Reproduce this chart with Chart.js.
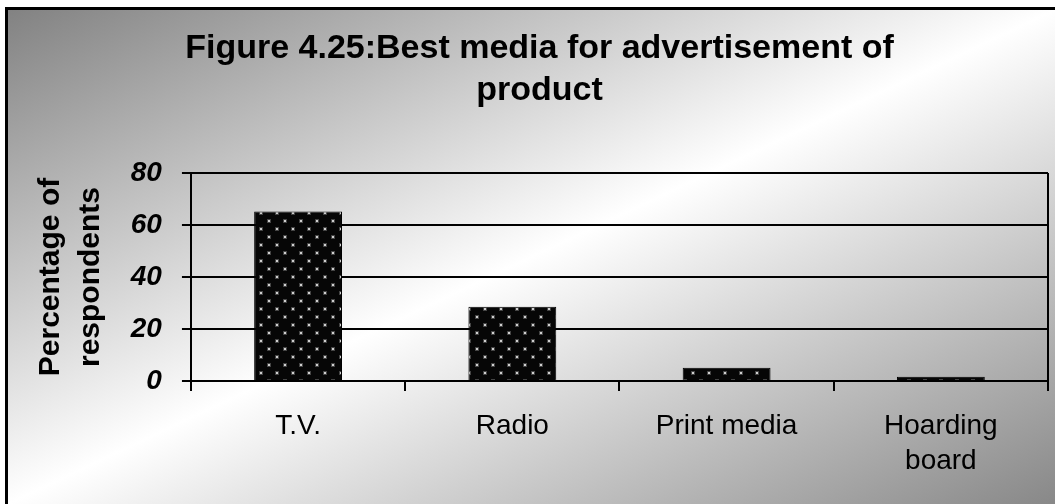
<!DOCTYPE html>
<html>
<head>
<meta charset="utf-8">
<script src="https://cdn.jsdelivr.net/npm/chart.js@4/dist/chart.umd.min.js"></script>
<style>
  html, body { margin: 0; padding: 0; background: #fff; }
  #frame {
    position: absolute; left: 5px; top: 7px; width: 1050px; height: 497px;
    border-left: 3px solid #000; border-top: 3px solid #000; box-sizing: border-box;
    background: linear-gradient(to bottom right, #828282 0%, #ffffff 50%, #888888 100%);
  }
  #wrap { position: absolute; left: 0; top: 0; width: 1055px; height: 504px; }
</style>
</head>
<body>
<div id="frame"></div>
<div id="wrap"><canvas id="best-media"></canvas></div>
<script>
// media categories and share of respondents (%)
var media = ["T.V.", "Radio", "Print media", ["Hoarding", "board"]];
var respondents = [65.2, 28.6, 5.1, 1.6];
var yTicks = [0, 20, 40, 60, 80];

var font = "Arial, 'Liberation Sans', sans-serif";

var ctx = document.getElementById('best-media').getContext('2d');

// black bar fill with small staggered light dots
function dotPattern() {
  var tile = document.createElement('canvas');
  tile.width = 16;
  tile.height = 16;
  var t = tile.getContext('2d');
  t.fillStyle = '#060606';
  t.fillRect(0, 0, 16, 16);
  [[4, 4], [12, 12]].forEach(function (p) {
    t.fillStyle = '#444';
    t.fillRect(p[0] - 1, p[1] - 1, 4, 4);
    t.fillStyle = '#cfcfcf';
    t.fillRect(p[0], p[1], 2, 2);
  });
  return ctx.createPattern(tile, 'repeat');
}

var chart = new Chart(ctx, {
// The type of chart we want to create
type: 'bar',

// The data for our dataset
data: {
  labels: media,
  datasets: [{
    data: respondents,
    backgroundColor: dotPattern(),
    borderColor: '#000',
    borderWidth: 1,
    categoryPercentage: 1,
    barPercentage: 0.41
  }]
},

// Configuration options go here
options: {
  responsive: true,
  maintainAspectRatio: false,
  animation: false,
  layout: { padding: { left: 31, right: 7, top: 0, bottom: 7 } },
  plugins: {
    legend: { display: false },
    tooltip: { enabled: false },
    title: {
      display: true,
      text: ['Figure 4.25:Best media for advertisement of', 'product'],
      color: '#000',
      font: { family: font, size: 34, weight: 'bold', lineHeight: 1.235 },
      padding: { top: 28, bottom: 61 }
    }
  },
  scales: {
    x: {
      grid: {
        offset: true,
        drawOnChartArea: true,
        tickLength: 10,
        lineWidth: 2,
        tickColor: '#000',
        // only the right edge of the plot gets a full line
        color: function (c) { return c.index === undefined ? '#000' : 'rgba(0,0,0,0)'; }
      },
      border: { display: true, color: '#000', width: 2 },
      ticks: {
        color: '#000',
        autoSkip: false,
        maxRotation: 0,
        padding: 18,
        font: { family: font, size: 28, lineHeight: 1.25 }
      }
    },
    y: {
      min: 0,
      max: 80,
      afterBuildTicks: function (axis) {
        axis.ticks = yTicks.map(function (v) { return { value: v }; });
      },
      grid: { color: '#000', lineWidth: 2, tickLength: 9 },
      border: { display: true, color: '#000', width: 2 },
      ticks: {
        color: '#000',
        padding: 20,
        font: { family: font, size: 28, weight: 'bold', style: 'italic' }
      },
      title: {
        display: true,
        text: ['Percentage of', 'respondents'],
        color: '#000',
        padding: { top: 0, bottom: 0 },
        font: { family: font, size: 30, weight: 'bold', lineHeight: 1.33 }
      }
    }
  }
}
});
</script>
</body>
</html>
